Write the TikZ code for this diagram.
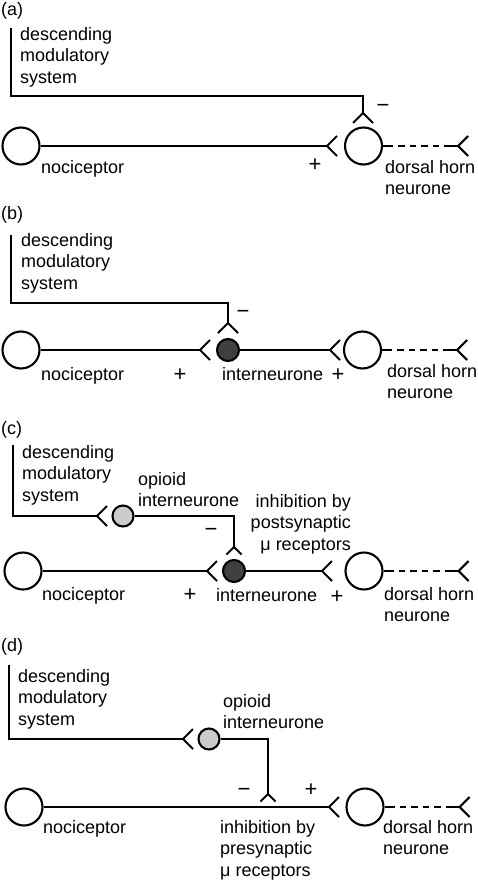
\documentclass[tikz,border=0pt]{standalone}
\usepackage{fontspec}
\setmainfont{Liberation Sans}
\usetikzlibrary{positioning,calc}

\begin{document}
\begin{tikzpicture}[x=1pt, y=-1pt,
  nerve/.style={line width=2.1pt},
  cell/.style={draw, circle, line width=2.1pt, minimum size=37pt, inner sep=0pt},
  inter/.style={cell, fill=black!75, minimum size=22pt},
  opioid/.style={cell, fill=black!20, minimum size=21pt},
  lbl/.style={font=\fontsize{18}{21.5}\selectfont, inner sep=0pt, align=left},
  sign/.style={font=\fontsize{22}{24}\selectfont, inner sep=0pt},
  synR/.pic={\draw[nerve] (10,-10) -- (0,0) -- (10,10);},
  synD/.pic={\draw[nerve] (-10,10) -- (0,0) -- (10,10);}]
\useasboundingbox (0,0) rectangle (477,881);

% (a)
\node[lbl, anchor=west] (laba) at (1,11) {(a)};
\node[cell] (noca) at (21,146) {};
\node[cell] (dha) at (363.5,146) {};
\coordinate (syna1) at (327,146);
\coordinate (topa) at (11,28);
\coordinate (benda) at (11,96);
\coordinate (syna2) at (363,113);
\draw[nerve] (noca) -- (syna1);
\draw[nerve] (topa) -- (benda) -| (syna2);
\pic at (syna1) {synR};
\pic at (syna2) {synD};
\node[lbl, anchor=north west] (desca) at (20,27) {descending\\modulatory\\system};
\node[lbl, anchor=base west] (nocalbl) at (41,173) {nociceptor};
\node[lbl, anchor=north west] (dhalbl) at (385,160) {dorsal horn\\neurone};
\node[sign] (plusa) at (315,165) {+};
\node[sign] (minusa) at (383,108) {−};

% (b)
\node[lbl, anchor=west] (labb) at (1,215) {(b)};
\node[cell] (nocb) at (21,350) {};
\node[inter] (intb) at (228,350) {};
\node[cell] (dhb) at (362.5,350) {};
\coordinate (synb1) at (200,350);
\coordinate (synb2) at (330,350);
\coordinate (topb) at (11,235);
\coordinate (bendb) at (11,303);
\coordinate (synb3) at (228,323);
\draw[nerve] (nocb) -- (synb1);
\draw[nerve] (intb) -- (synb2);
\draw[nerve] (topb) -- (bendb) -| (synb3);
\pic at (synb1) {synR};
\pic at (synb2) {synR};
\pic at (synb3) {synD};
\node[lbl, anchor=north west] (descb) at (21,233) {descending\\modulatory\\system};
\node[lbl, anchor=base west] (nocblbl) at (41,380) {nociceptor};
\node[lbl, anchor=base west] (intblbl) at (222,380) {interneurone};
\node[lbl, anchor=north west] (dhblbl) at (387,364) {dorsal horn\\neurone};
\node[sign] (plusb1) at (180,375) {+};
\node[sign] (plusb2) at (338,375) {+};
\node[sign] (minusb) at (243,314) {−};

% (c)
\node[lbl, anchor=west] (labc) at (1,430) {(c)};
\node[cell] (nocc) at (23,571) {};
\node[inter] (intc) at (234,571) {};
\node[cell] (dhc) at (364,571) {};
\node[opioid] (opc) at (123,516) {};
\coordinate (sync1) at (207,571);
\coordinate (sync2) at (322,571);
\coordinate (topc) at (13,445);
\coordinate (bendc) at (13,516);
\coordinate (sync3) at (97,516);
\coordinate (sync4) at (234,547);
\draw[nerve] (nocc) -- (sync1);
\draw[nerve] (intc) -- (sync2);
\draw[nerve] (topc) -- (bendc) -- (sync3);
\draw[nerve] (opc) -| (sync4);
\pic at (sync1) {synR};
\pic at (sync2) {synR};
\pic at (sync3) {synR};
\pic[scale=0.75] at (sync4) {synD};
\node[lbl, anchor=north west] (descc) at (22,445) {descending\\modulatory\\system};
\node[lbl, anchor=north west] (opclbl) at (138,472) {opioid\\interneurone};
\node[lbl, anchor=north east, align=right] (postc) at (351,494) {inhibition by\\postsynaptic\\μ receptors};
\node[lbl, anchor=base west] (noccl) at (42,600) {nociceptor};
\node[lbl, anchor=base west] (intclbl) at (216,601) {interneurone};
\node[lbl, anchor=north west] (dhclbl) at (384,587) {dorsal horn\\neurone};
\node[sign] (plusc1) at (190,595) {+};
\node[sign] (plusc2) at (337,597) {+};
\node[sign] (minusc) at (211,532) {−};

% (d)
\node[lbl, anchor=west] (labd) at (1,647) {(d)};
\node[cell] (nocd) at (24,807) {};
\node[cell] (dhd) at (365,807) {};
\node[opioid] (opd) at (209,739) {};
\coordinate (synd1) at (329,807);
\coordinate (topd) at (9,665);
\coordinate (bendd) at (9,739);
\coordinate (synd2) at (183,739);
\coordinate (synd3) at (268,794);
\draw[nerve] (nocd) -- (synd1);
\draw[nerve] (topd) -- (bendd) -- (synd2);
\draw[nerve] (opd) -| (synd3);
\pic at (synd1) {synR};
\pic at (synd2) {synR};
\pic[scale=0.75] at (synd3) {synD};
\node[lbl, anchor=north west] (descd) at (18,669) {descending\\modulatory\\system};
\node[lbl, anchor=north west] (opdlbl) at (223,694) {opioid\\interneurone};
\node[lbl, anchor=north west] (pred) at (220,820) {inhibition by\\presynaptic\\μ receptors};
\node[lbl, anchor=base west] (nocdlbl) at (43,833) {nociceptor};
\node[lbl, anchor=north west] (dhdlbl) at (383,820) {dorsal horn\\neurone};
\node[sign] (minusd) at (244,792) {−};
\node[sign] (plusd) at (311,790) {+};

\foreach \p in {a,b,c,d}{
  \coordinate (out\p) at ([xshift=75pt]dh\p.east);
  \draw[nerve] (dh\p) -- ([xshift=10pt]dh\p.east);
  \draw[nerve, dash pattern=on 6.5pt off 5pt] ([xshift=15pt]dh\p.east) -- ([xshift=56pt]dh\p.east);
  \draw[nerve] ([xshift=61pt]dh\p.east) -- (out\p);
  \pic at (out\p) {synR};
}
\end{tikzpicture}
\end{document}
